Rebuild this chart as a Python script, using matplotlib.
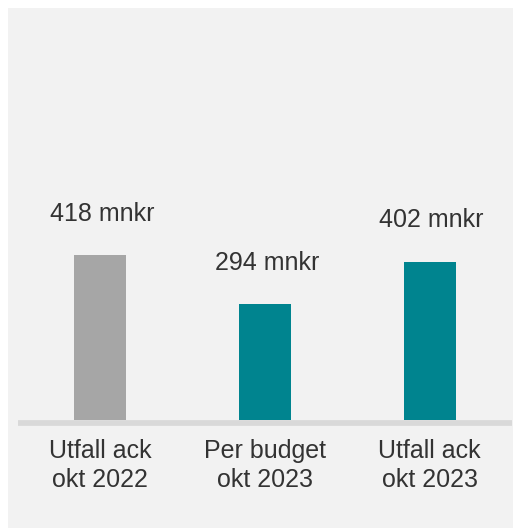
import matplotlib
matplotlib.use("Agg")
import matplotlib.pyplot as plt
from matplotlib.patches import Rectangle

categories = ["Utfall ack\nokt 2022", "Per budget\nokt 2023", "Utfall ack\nokt 2023"]
values = [418, 294, 402]
value_labels = ["418 mnkr", "294 mnkr", "402 mnkr"]
colors = ["#a6a6a6", "#00848f", "#00848f"]

plt.rcParams['font.family'] = ['Liberation Sans', 'DejaVu Sans']

W, H = 513, 528
fig = plt.figure(figsize=(W / 100, H / 100), dpi=100, facecolor="white")
bg = Rectangle((8 / W, 0), 1 - 8 / W, 1 - 8 / H, transform=fig.transFigure,
               facecolor="#f2f2f2", edgecolor="none", zorder=-10)
fig.patches.append(bg)

ax = fig.add_axes([18 / W, 1 - 422.8 / H, (512 - 18) / W, (422.8 - 8) / H])
ax.set_facecolor("none")
ax.set_zorder(5)

x = list(range(len(categories)))
bars = ax.bar(x, values, width=0.317, color=colors, zorder=2)
for xi, v, lab in zip(x, values, value_labels):
    ax.annotate(lab, (xi, v), xytext=(1.5, 25), textcoords="offset points",
                ha="center", va="baseline", fontsize=18, color="#333333")

ax.set_xlim(-0.5, 2.5)
ax.set_ylim(-7, 1046)
ax.set_xticks(x)
ax.set_xticklabels(categories, fontsize=18, color="#333333", linespacing=1.25)
ax.tick_params(axis="x", length=0, pad=12)
ax.set_yticks([])
for s in ["top", "left", "right"]:
    ax.spines[s].set_visible(False)
ax.spines["bottom"].set_color("#d9d9d9")
ax.spines["bottom"].set_linewidth(4.1)
ax.spines["bottom"].set_capstyle("butt")
ax.spines["bottom"].set_zorder(1)

fig.savefig("out.png", dpi=100, facecolor=fig.get_facecolor())
